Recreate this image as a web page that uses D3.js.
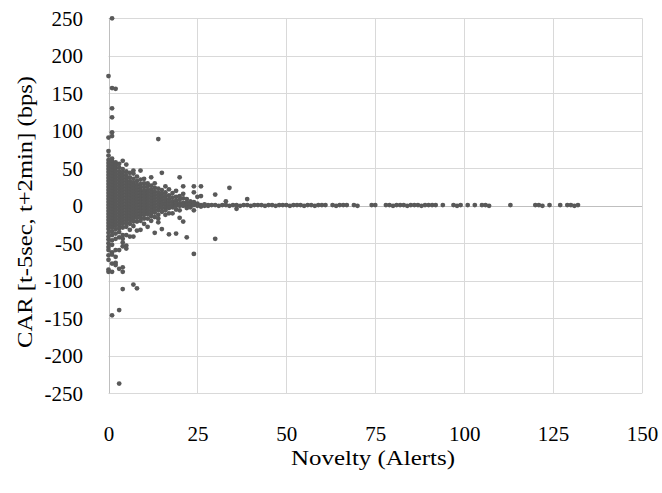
<!DOCTYPE html>
<html>
<head>
<meta charset="utf-8">
<script src="https://cdn.jsdelivr.net/npm/d3@7"></script>
<style>
  html, body { margin: 0; padding: 0; background: #fff; }
  svg text { font-family: "Palatino Linotype", "Book Antiqua", Palatino, "Liberation Serif", serif; fill: #000; }
</style>
</head>
<body>
<svg id="chart" width="662" height="493"></svg>
<script>
// Axis ticks
const xTicks = [0, 25, 50, 75, 100, 125, 150];
const yTicks = [250, 200, 150, 100, 50, 0, -50, -100, -150, -200, -250];

// Alerts with novelty 0–39: [novelty, CAR values in bps]
const clusterColumns = [
  [0, [173, 91, 73, 67, 61, 57, 53, 49, 45, 41, 37, 33, 29, 25, 21, 17, 13, 9, 5, 1, -3, -7, -11, -15, -19, -23, -27, -31, -36, -41, -45, -50, -55, -59, -66, -72, -85, -88]],
  [1, [250, 157, 130, 118, 98, 93, 63, 59, 55, 51, 47, 43, 39, 35, 31, 27, 23, 19, 15, 11, 7, 3, -1, -5, -9, -13, -17, -21, -25, -29, -34, -39, -46, -52, -62, -65, -77, -88, -146]],
  [2, [156, 58, 54, 50, 46, 42, 38, 34, 30, 26, 22, 18, 14, 10, 6, 2, -2, -6, -10, -14, -18, -22, -26, -31, -37, -44, -59, -68, -76, -79]],
  [3, [56, 51, 46, 42, 38, 34, 30, 26, 22, 18, 14, 10, 6, 2, -2, -6, -10, -14, -18, -22, -26, -30, -35, -42, -59, -84, -139, -237]],
  [4, [60, 49, 44, 40, 36, 32, 28, 24, 20, 16, 12, 8, 4, 0, -4, -8, -12, -16, -20, -24, -29, -39, -44, -49, -54, -82, -88, -111]],
  [5, [55, 46, 41, 37, 33, 29, 25, 21, 17, 13, 9, 5, 1, -3, -7, -11, -15, -19, -23, -28, -39, -53, -57]],
  [6, [44, 38, 33, 29, 25, 21, 17, 13, 9, 5, 1, -3, -7, -11, -15, -19, -24, -32, -41]],
  [7, [47, 43, 36, 31, 27, 23, 19, 15, 11, 7, 3, -1, -5, -9, -13, -17, -21, -27, -41, -105]],
  [8, [39, 33, 28, 24, 20, 16, 12, 8, 4, 0, -4, -8, -12, -16, -21, -33, -110]],
  [9, [47, 35, 29, 25, 21, 17, 13, 9, 5, 1, -3, -7, -11, -15, -20, -32]],
  [10, [36, 30, 25, 20, 16, 12, 8, 4, 0, -4, -8, -12, -17, -24]],
  [11, [30, 26, 21, 17, 13, 9, 5, 1, -3, -7, -11, -17, -28]],
  [12, [38, 27, 22, 18, 14, 10, 6, 2, -2, -6, -10, -14, -20]],
  [13, [30, 24, 19, 15, 11, 7, 3, -1, -5, -9, -15, -36]],
  [14, [89, 23, 18, 14, 10, 6, 2, -2, -6, -12, -17, -22]],
  [15, [44, 21, 16, 12, 8, 4, 1, -3, -8, -31]],
  [16, [26, 18, 13, 9, 5, 2, -2, -6, -12]],
  [17, [22, 14, 9, 5, 1, -3, -10, -38]],
  [18, [17, 11, 6, 2, -2, -10]],
  [19, [20, 12, 7, 3, 0, -5, -37]],
  [20, [38, 13, 8, 3, 0, -6, -16]],
  [21, [26, 16, 10, 4, 0, -21]],
  [22, [9, 4, 1, -3, -42]],
  [23, [6, 2, 0, -2]],
  [24, [26, 18, 5, 1, -6, -64]],
  [25, [12, 3, 0]],
  [26, [26, 13, 1, -1]],
  [27, [2, 0]],
  [28, [1, 0]],
  [30, [15, 1, -44]],
  [33, [6]],
  [34, [24]],
  [36, [-4]],
  [39, [9]]
];

// Long tail: novelty of highly repeated alerts, CAR close to zero
const tailNovelty = [29, 31, 32, 33, 34, 35, 36, 37, 38, 39, 40, 41, 42, 43, 44, 45, 46, 47, 48, 49,
  50, 51, 52, 53, 54, 55, 56, 57, 58, 59, 60, 61, 63, 64, 65, 66, 67, 69, 70, 74, 75,
  78, 79, 80, 81, 82, 83, 84, 85, 86, 87, 88, 89, 90, 91, 92, 94, 97, 98, 99, 101, 103,
  105, 106, 107, 113, 120, 121, 122, 124, 127, 129, 130, 131, 132];
const tailCar = [1, 0, 1, 1, 0, 1, 1, 0, 1, 1, 0, 1, 1, 1, 0, 1, 1, 0, 1, 1,
  1, 0, 1, 1, 1, 0, 1, 1, 0, 1, 1, 1, 1, 0, 1, 1, 1, 1, 0, 1, 1,
  1, 1, 0, 1, 1, 1, 0, 1, 1, 1, 0, 1, 1, 1, 1, 1, 1, 0, 1, 1, 1,
  1, 1, 0, 1, 1, 1, 0, 1, 1, 1, 1, 0, 1];

const points = [];
clusterColumns.forEach(([n, cars]) => cars.forEach(c => points.push({ n, c })));
tailNovelty.forEach((n, i) => points.push({ n, c: tailCar[i] }));

const svg = d3.select("#chart");

const x = d3.scaleLinear().domain([0, 150]).range([108.5, 642]);
const y = d3.scaleLinear().domain([-250, 250]).range([393.3, 18.3]);

// Gridlines
svg.append("g").selectAll("line").data(yTicks).join("line")
  .attr("x1", x(0)).attr("x2", x(150))
  .attr("y1", d => Math.round(y(d)) + 0.5).attr("y2", d => Math.round(y(d)) + 0.5)
  .attr("stroke", "#d9d9d9").attr("stroke-width", 1);
svg.append("g").selectAll("line").data(xTicks).join("line")
  .attr("x1", d => Math.round(x(d)) + 0.5).attr("x2", d => Math.round(x(d)) + 0.5)
  .attr("y1", y(250)).attr("y2", y(-250))
  .attr("stroke", "#d9d9d9").attr("stroke-width", 1);

// Axis lines through the origin
svg.append("line")
  .attr("x1", x(0)).attr("x2", x(150))
  .attr("y1", Math.round(y(0)) + 0.5).attr("y2", Math.round(y(0)) + 0.5)
  .attr("stroke", "#bfbfbf").attr("stroke-width", 1);
svg.append("line")
  .attr("x1", Math.round(x(0)) + 0.5).attr("x2", Math.round(x(0)) + 0.5)
  .attr("y1", y(250)).attr("y2", y(-250))
  .attr("stroke", "#bfbfbf").attr("stroke-width", 1);

// Tick labels (plain hyphen for negatives)
const plain = d => String(d);

const xAxis = d3.axisBottom(x).tickValues(xTicks).tickSize(0).tickPadding(0).tickFormat(plain);
const gx = svg.append("g").attr("transform", `translate(0,${y(-250)})`).call(xAxis);
gx.select(".domain").remove();
gx.selectAll("text").attr("dy", null).attr("y", 47.5).style("font-size", "21px")
  .style("font-family", null);

const yAxis = d3.axisLeft(y).tickValues(yTicks).tickSize(0).tickPadding(0).tickFormat(plain);
const gy = svg.append("g").attr("transform", "translate(83,0)").call(yAxis);
gy.select(".domain").remove();
gy.selectAll("text").attr("x", 0).attr("dy", "0.34em").style("font-size", "21px")
  .style("font-family", null);

// Markers
svg.append("g").selectAll("circle").data(points).join("circle")
  .attr("cx", d => x(d.n)).attr("cy", d => y(d.c))
  .attr("r", 2.4).attr("fill", "#595959");

// Axis titles
svg.append("text")
  .attr("x", 373).attr("y", 465)
  .attr("text-anchor", "middle")
  .attr("textLength", 164).attr("lengthAdjust", "spacingAndGlyphs")
  .style("font-size", "22px")
  .text("Novelty (Alerts)");

svg.append("text")
  .attr("transform", "translate(32,212) rotate(-90)")
  .attr("text-anchor", "middle")
  .attr("textLength", 272).attr("lengthAdjust", "spacingAndGlyphs")
  .style("font-size", "22px")
  .text("CAR [t-5sec, t+2min] (bps)");
</script>
</body>
</html>
